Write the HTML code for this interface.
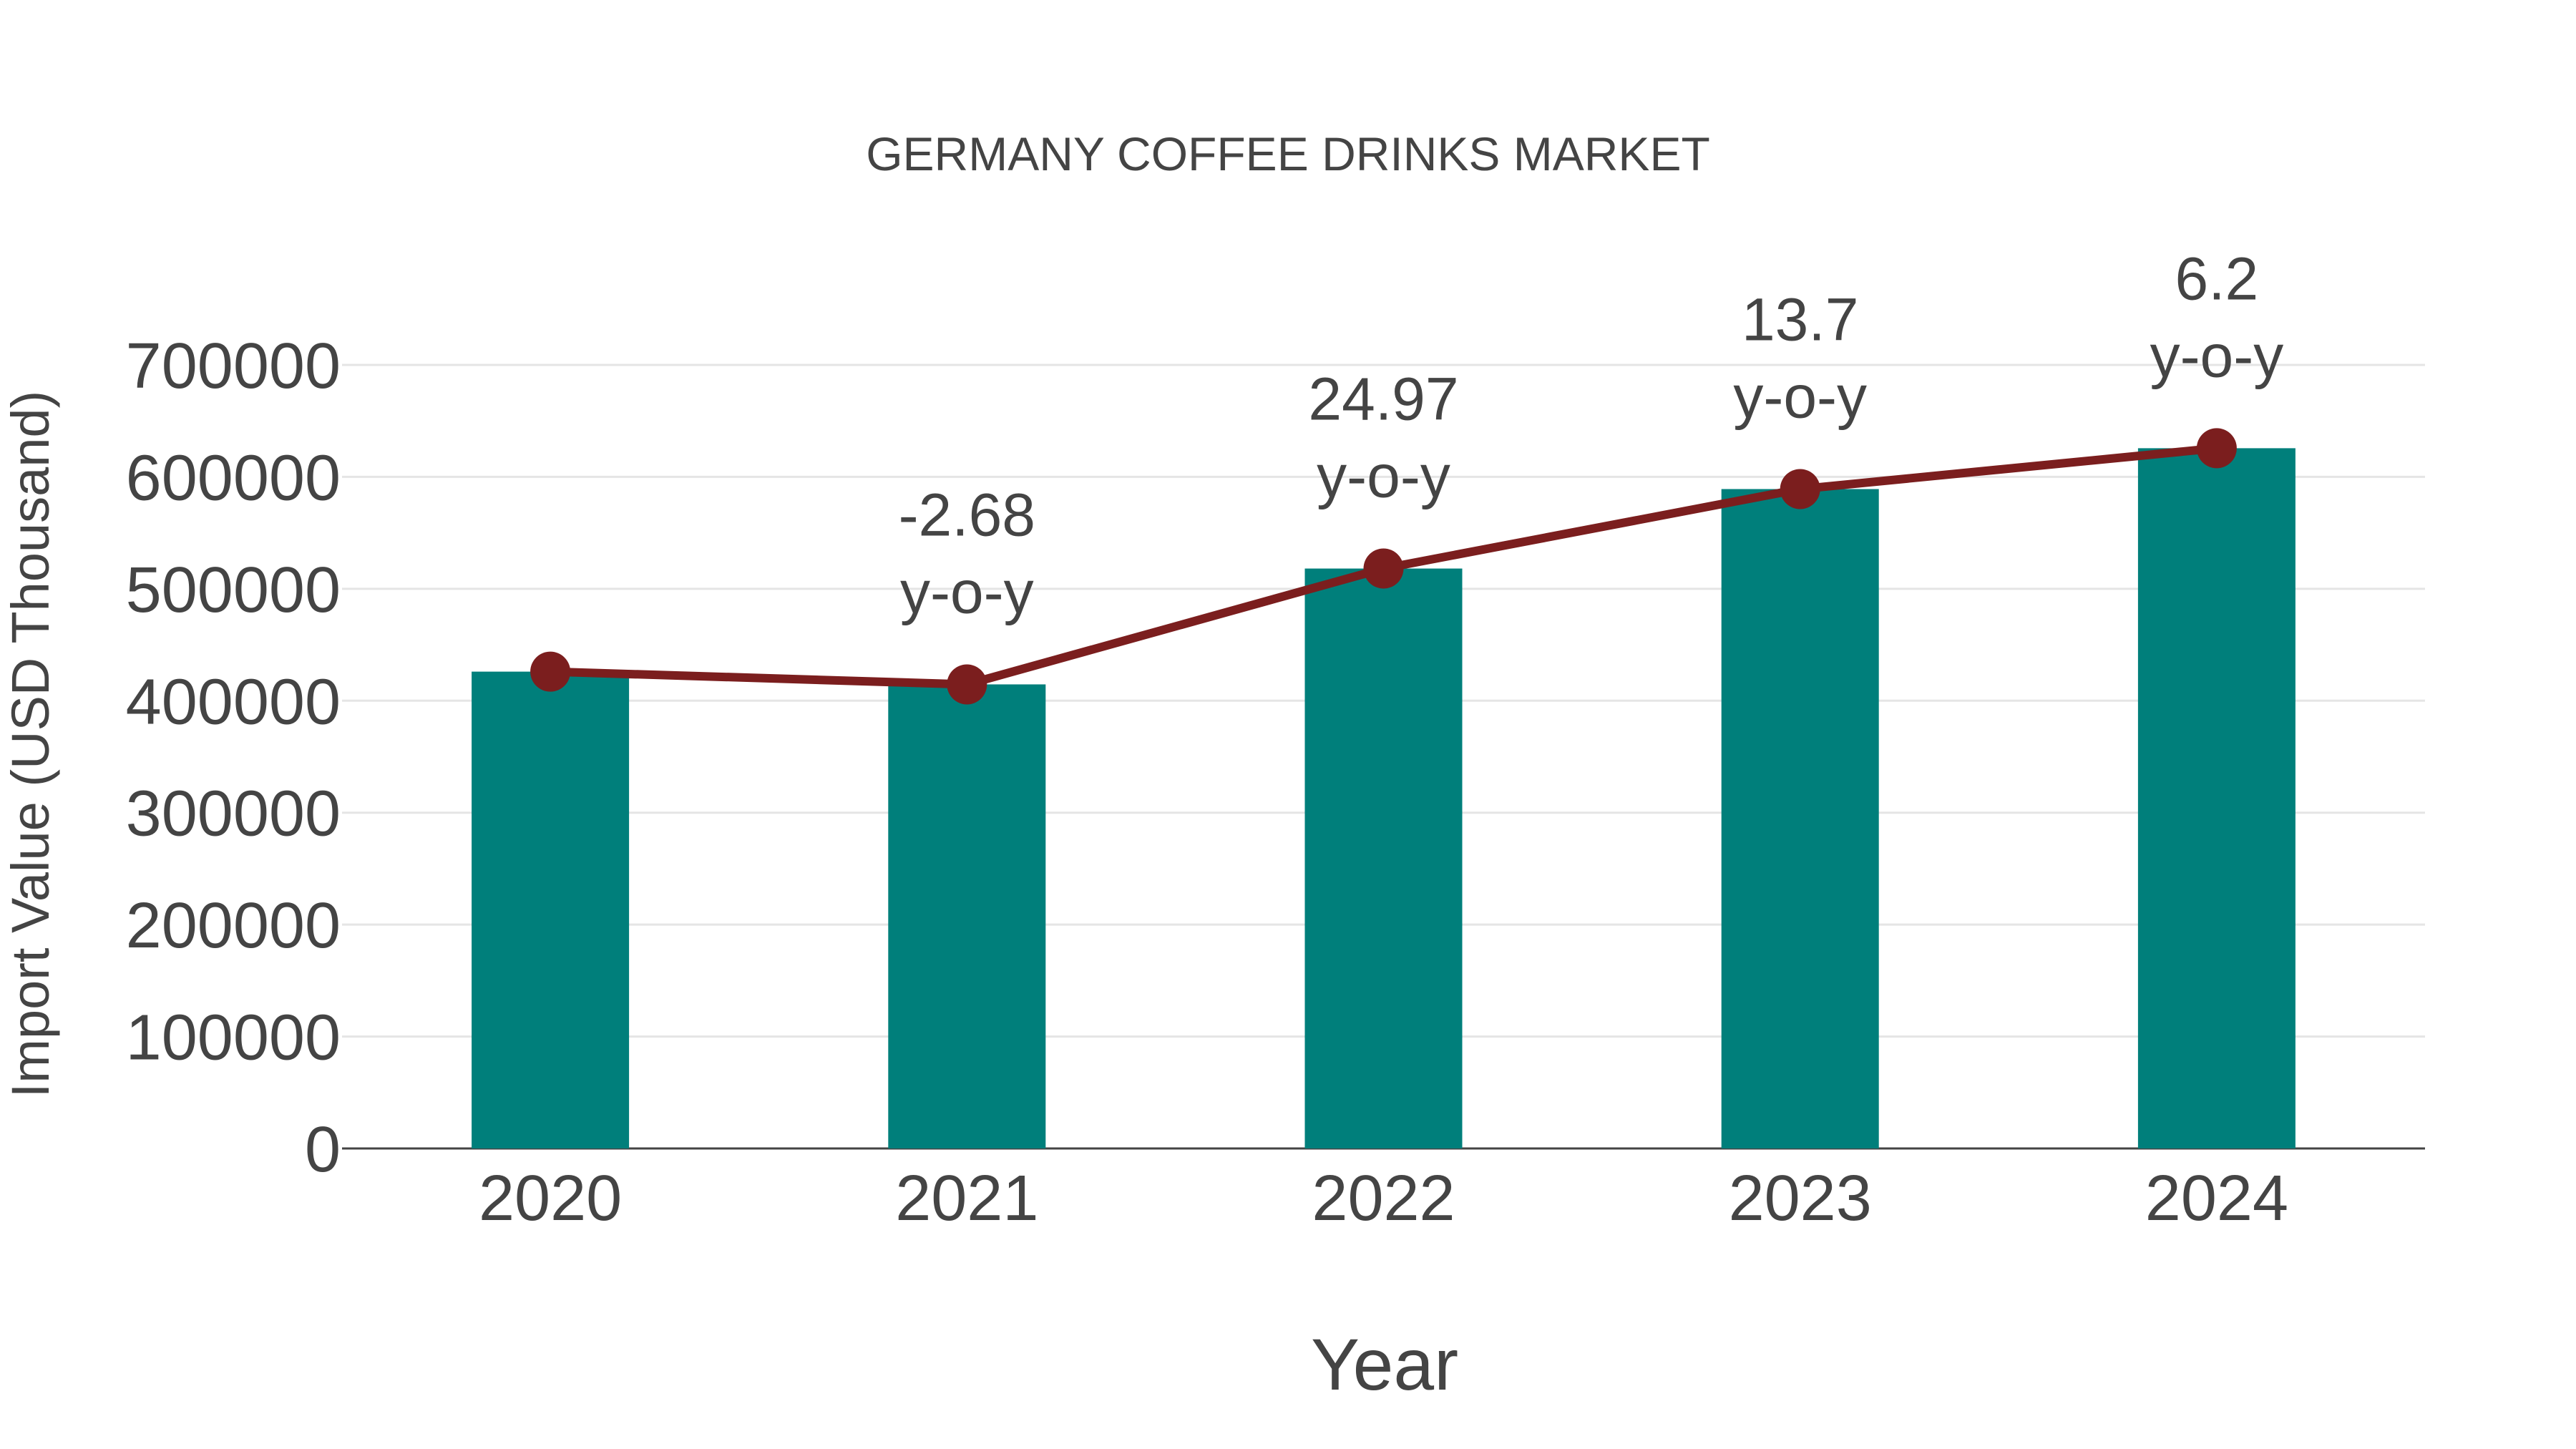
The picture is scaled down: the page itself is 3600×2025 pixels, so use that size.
<!DOCTYPE html>
<html><head><meta charset="utf-8"><style>
html,body{margin:0;padding:0;background:#fff;}
svg{display:block;font-family:"Liberation Sans",sans-serif;}
</style></head><body>
<svg id="chart" width="3600" height="2025" viewBox="0 0 3600 2025">
<text x="1800" y="238" text-anchor="middle" font-size="66" fill="#444">GERMANY COFFEE DRINKS MARKET</text>
<g id="grid"></g><g id="bars"></g><g id="line"></g><g id="labels"></g>
<text x="1935" y="1942" text-anchor="middle" font-size="102" fill="#444">Year</text>
<text transform="translate(68,1040) rotate(-90)" text-anchor="middle" font-size="74" fill="#444">Import Value (USD Thousand)</text>
</svg>
<script>
const categories = ["2020","2021","2022","2023","2024"];
const values = [426000, 414600, 518100, 589100, 625600];
const yoyLabels = ["", "-2.68", "24.97", "13.7", "6.2"];
const yTicks = [0,100000,200000,300000,400000,500000,600000,700000];

const NS="http://www.w3.org/2000/svg";
const x0=478, x1=3389, yBase=1605, yTop=510, yMax=700000;
const step=(x1-x0)/categories.length;
function xs(i){return x0+step*(i+0.5);}
function ys(v){return yBase-(v/yMax)*(yBase-yTop);}
function mk(tag,attrs,parent,text){const e=document.createElementNS(NS,tag);for(const k in attrs)e.setAttribute(k,attrs[k]);if(text!==undefined)e.textContent=text;parent.appendChild(e);return e;}
const grid=document.getElementById('grid'),bars=document.getElementById('bars'),line=document.getElementById('line'),labels=document.getElementById('labels');
yTicks.forEach(t=>{
  const y=ys(t);
  if(t>0){const g=mk('line',{x1:x0,x2:x1,y1:y,y2:y,stroke:'#e5e5e5','stroke-width':3},grid);
  
  }
  const tl=mk('text',{x:x0-2,y:y+32,'text-anchor':'end','font-size':90,fill:'#444'},grid,String(t));
  
  
});
const ax=mk('line',{x1:x0,x2:x1,y1:yBase,y2:yBase,stroke:'#444','stroke-width':3},grid);


const bw=220;
categories.forEach((c,i)=>{
  const r=mk('rect',{x:xs(i)-bw/2,y:ys(values[i]),width:bw,height:yBase-ys(values[i]),fill:'#007f7b'},bars);
  
  
  const t=mk('text',{x:xs(i),y:yBase+100,'text-anchor':'middle','font-size':90,fill:'#444'},labels,c);
  
  
  if(yoyLabels[i]){
    const a=mk('text',{x:xs(i),y:ys(values[i])-208,'text-anchor':'middle','font-size':84,fill:'#444'},labels,yoyLabels[i]);
    
    
    const b=mk('text',{x:xs(i),y:ys(values[i])-100,'text-anchor':'middle','font-size':84,fill:'#444'},labels,'y-o-y');
    
    
  }
});
const pts=values.map((v,i)=>xs(i)+','+ys(v)).join(' ');
const pl=mk('polyline',{points:pts,fill:'none',stroke:'#7b1e1e','stroke-width':12},line);


values.forEach((v,i)=>{
  const c=mk('circle',{cx:xs(i),cy:ys(v),r:28,fill:'#7b1e1e'},line);
  
  
});
</script>
</body></html>
